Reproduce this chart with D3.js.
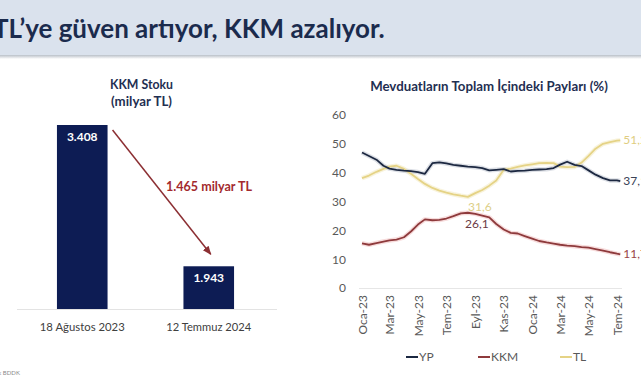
<!DOCTYPE html>
<html><head><meta charset="utf-8">
<script src="https://cdn.jsdelivr.net/npm/d3@7"></script>
<style>
html,body{margin:0;padding:0;background:#fff;}
svg{display:block;font-family:Lato,"Open Sans",sans-serif;}
</style></head>
<body>
<svg id="c" width="641" height="380"></svg>
<script>
// ---------- data ----------
const pageTitle = "TL’ye güven artıyor, KKM azalıyor.";
const barTitle = ["KKM Stoku", "(milyar TL)"];
const barCategories = ["18 Ağustos 2023", "12 Temmuz 2024"];
const barValues = [3408, 1943];
const barLabels = ["3.408", "1.943"];
const barAxisMin = 1500;
const changeLabel = "1.465 milyar TL";

const lineTitle = "Mevduatların Toplam İçindeki Payları (%)";
const dates = [
 "2023-01-01","2023-01-16","2023-02-01","2023-02-16","2023-03-01","2023-03-16",
 "2023-04-01","2023-04-16","2023-05-01","2023-05-16","2023-06-01","2023-06-16",
 "2023-07-01","2023-07-16","2023-08-01","2023-08-16","2023-09-01","2023-09-16",
 "2023-10-01","2023-10-16","2023-11-01","2023-11-16","2023-12-01","2023-12-16",
 "2024-01-01","2024-01-16","2024-02-01","2024-02-16","2024-03-01","2024-03-16",
 "2024-04-01","2024-04-16","2024-05-01","2024-05-16","2024-06-01","2024-06-16",
 "2024-07-01","2024-07-08"];
const ypValues = [47.0,45.8,44.5,42.4,41.4,41.0,40.7,40.5,40.2,39.6,43.3,43.6,
 43.2,42.7,42.4,42.1,41.9,41.6,40.8,41.0,41.2,40.4,40.6,40.7,41.0,41.1,41.2,41.6,
 42.8,43.8,42.7,42.3,40.8,39.3,38.1,37.3,37.3,37.1];
const kkmValues = [15.5,15.0,15.6,16.1,16.5,16.8,17.6,19.6,22.0,23.8,23.5,23.6,
 24.1,24.9,25.9,26.1,25.7,25.1,24.5,22.2,20.3,19.1,18.9,18.0,17.1,16.3,15.8,15.4,
 15.0,14.7,14.5,14.2,14.0,13.5,13.0,12.4,11.9,11.7];
const tlValues = [38.1,39.0,40.3,41.3,42.1,42.4,41.3,39.6,37.8,36.1,34.7,33.8,
 33.1,32.5,32.0,31.6,32.9,34.0,35.5,37.3,41.0,41.4,42.0,42.5,42.9,43.3,43.4,43.3,
 42.1,41.9,42.0,43.5,45.8,48.3,50.0,50.6,51.1,51.2];
const yTicks = [0,10,20,30,40,50,60];
const monthNames = ["Oca","Şub","Mar","Nis","May","Haz","Tem","Ağu","Eyl","Eki","Kas","Ara"];
const seriesNames = ["YP","KKM","TL"];
const seriesColors = ["#1c2841","#8e3a3c","#e5d386"];

// ---------- drawing ----------
const svg = d3.select("#c");
function fit(sel, w){
  const cur = parseFloat(sel.attr("font-size"));
  const len = sel.node().getComputedTextLength();
  sel.attr("font-size", (cur*w/len).toFixed(2));
}

// header
svg.append("rect").attr("x",0).attr("y",0).attr("width",641).attr("height",56).attr("fill","#dae2ed");
const sh = svg.append("defs").append("linearGradient").attr("id","sh").attr("x1",0).attr("x2",0).attr("y1",0).attr("y2",1);
sh.append("stop").attr("offset",0).attr("stop-color","#b9c0c8");
sh.append("stop").attr("offset",1).attr("stop-color","#ffffff");
svg.append("rect").attr("x",0).attr("y",55).attr("width",641).attr("height",4).attr("fill","url(#sh)");
const ht = svg.append("text").attr("x",-7).attr("y",38).attr("font-size",21).attr("font-weight",700)
  .attr("fill","#1b2b4d").text(pageTitle);
fit(ht, 392);

// ---------- left bar chart ----------
const bx = d3.scaleBand().domain(barCategories).range([19,272]).paddingInner(0.6).paddingOuter(0.3);
const by = d3.scaleLinear().domain([barAxisMin, barValues[0]]).range([309,125]);
const tcol = "#1f2f52";
barTitle.forEach((t,i)=>{
  const e = svg.append("text").attr("x",141.5).attr("y",89+i*17).attr("text-anchor","middle")
    .attr("font-size",12).attr("font-weight",700).attr("fill",tcol).text(t);
  fit(e, i===0?63:61);
});
svg.append("line").attr("x1",17).attr("x2",277).attr("y1",309.5).attr("y2",309.5).attr("stroke","#e3e3e3").attr("stroke-width",1);
svg.selectAll("rect.bar").data(barValues).join("rect").attr("class","bar")
  .attr("x",(d,i)=>bx(barCategories[i])).attr("width",bx.bandwidth())
  .attr("y",d=>by(d)).attr("height",d=>by.range()[0]-by(d)).attr("fill","#0d1c54");
svg.selectAll("text.bl").data(barValues).join("text").attr("class","bl")
  .attr("x",(d,i)=>bx(barCategories[i])+bx.bandwidth()/2).attr("y",d=>by(d)+16)
  .attr("text-anchor","middle").attr("font-size",12).attr("font-weight",700).attr("fill","#ffffff")
  .text((d,i)=>barLabels[i]);
svg.selectAll("text.bx").data(barCategories).join("text").attr("class","bx")
  .attr("x",d=>bx(d)+bx.bandwidth()/2).attr("y",331).attr("text-anchor","middle")
  .attr("font-size",12.5).attr("fill","#404040").text(d=>d)
  .each(function(){ fit(d3.select(this), 85); });
// arrow
const defs = svg.select("defs");
defs.append("marker").attr("id","ah").attr("viewBox","0 0 10 10").attr("refX",9).attr("refY",5)
  .attr("markerWidth",6).attr("markerHeight",6).attr("orient","auto")
  .append("path").attr("d","M0,1 L10,5 L0,9 Z").attr("fill","#8c2f33");
const ax1 = bx(barCategories[0])+bx.bandwidth()+5, ay1 = by(barValues[0])+5;
const ax2 = bx(barCategories[1])+bx.bandwidth()/2+2, ay2 = by(barValues[1])-12;
svg.append("line").attr("x1",ax1).attr("y1",ay1).attr("x2",ax2).attr("y2",ay2)
  .attr("stroke","#8c2f33").attr("stroke-width",1.5).attr("marker-end","url(#ah)");
const cl = svg.append("text").attr("x",209).attr("y",191).attr("text-anchor","middle").attr("font-size",12.5)
  .attr("font-weight",700).attr("fill","#a32a2e").text(changeLabel);
fit(cl, 86);
svg.append("text").attr("x",-18).attr("y",375).attr("font-size",6).attr("fill","#8a8a8a").text("Kaynak BDDK");

// ---------- right line chart ----------
const parse = d3.timeParse("%Y-%m-%d");
const dts = dates.map(parse);
const x = d3.scaleTime().domain([parse("2023-01-01"), parse("2024-07-01")]).range([362,617]);
const y = d3.scaleLinear().domain([0,60]).range([288,115]);
const lt = svg.append("text").attr("x",489).attr("y",91).attr("text-anchor","middle").attr("font-size",12)
  .attr("font-weight",700).attr("fill",tcol).text(lineTitle);
fit(lt, 238);
svg.append("line").attr("x1",359).attr("x2",622).attr("y1",y(0)+0.5).attr("y2",y(0)+0.5).attr("stroke","#e6e6e6");
const yAxis = svg.append("g").attr("transform","translate(352,0)")
  .call(d3.axisLeft(y).tickValues(yTicks).tickSize(0).tickPadding(0).tickFormat(d3.format("d")));
yAxis.select(".domain").remove();
yAxis.selectAll("text").attr("font-size",12).attr("fill","#595959").attr("font-family","Lato,'Open Sans',sans-serif").attr("x",-6);
const xTicks = d3.timeMonth.every(2).range(parse("2023-01-01"), parse("2024-07-02"));
const xAxis = svg.append("g").attr("transform",`translate(0,${y(0)})`)
  .call(d3.axisBottom(x).tickValues(xTicks).tickSize(0)
    .tickFormat(d=>monthNames[d.getMonth()]+"-"+String(d.getFullYear()).slice(2)));
xAxis.select(".domain").remove();
xAxis.selectAll("text").attr("font-size",12).attr("fill","#595959").attr("font-family","Lato,'Open Sans',sans-serif")
  .attr("transform","rotate(-90)").attr("text-anchor","end").attr("x",-7).attr("y",0).attr("dy","0.35em");

const seriesVals = [ypValues, kkmValues, tlValues];
const line = d3.line().x((d,i)=>x(dts[i])).y(d=>y(d)).curve(d3.curveLinear);
const halo = ["#c5cad4","#f2c4c4","#f3ebc4"];
[2,1,0].forEach(k=>{
  svg.append("path").datum(seriesVals[k]).attr("d",line).attr("fill","none")
    .attr("stroke",halo[k]).attr("stroke-width",4.5).attr("stroke-opacity",0.6).attr("stroke-linejoin","round");
});
[2,1,0].forEach(k=>{
  svg.append("path").datum(seriesVals[k]).attr("d",line).attr("fill","none")
    .attr("stroke",seriesColors[k]).attr("stroke-width",1.8).attr("stroke-linejoin","round");
});
// end labels
const endCol = ["#3a4256","#9a4446","#e0cd80"];
[0,1,2].forEach(k=>{
  const v = seriesVals[k];
  svg.append("text").attr("x",x(dts[dts.length-1])+3).attr("y",y(v[v.length-1])+4)
    .attr("font-size",12).attr("fill",endCol[k]).text(d3.format(".1f")(v[v.length-1]).replace(".",","));
});
// extreme labels
const tlMin = d3.minIndex(tlValues), kkmMax = d3.maxIndex(kkmValues);
svg.append("text").attr("x",x(dts[tlMin])+12).attr("y",y(tlValues[tlMin])+14).attr("text-anchor","middle")
  .attr("font-size",12).attr("fill","#ddd08a").text(d3.format(".1f")(tlValues[tlMin]).replace(".",","));
svg.append("text").attr("x",x(dts[kkmMax])+9).attr("y",y(kkmValues[kkmMax])+15).attr("text-anchor","middle")
  .attr("font-size",12).attr("fill","#6b3a44").text(d3.format(".1f")(kkmValues[kkmMax]).replace(".",","));
// legend
const lgX = [406,478,560];
seriesNames.forEach((n,k)=>{
  svg.append("line").attr("x1",lgX[k]).attr("x2",lgX[k]+12).attr("y1",357).attr("y2",357)
    .attr("stroke",seriesColors[k]).attr("stroke-width",2);
  svg.append("text").attr("x",lgX[k]+13).attr("y",361).attr("font-size",12).attr("fill","#595959").text(n);
});
</script>
</body></html>
